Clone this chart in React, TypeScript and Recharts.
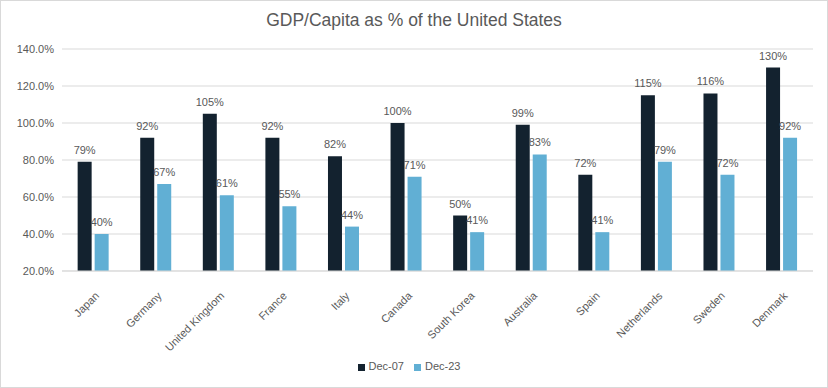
import React from "react";
import { BarChart, Bar, XAxis, YAxis, CartesianGrid, Legend, LabelList } from "recharts";

const countries = ["Japan", "Germany", "United Kingdom", "France", "Italy", "Canada", "South Korea", "Australia", "Spain", "Netherlands", "Sweden", "Denmark"];
const dec07 = [79, 92, 105, 92, 82, 100, 50, 99, 72, 115, 116, 130];
const dec23 = [40, 67, 61, 55, 44, 71, 41, 83, 41, 79, 72, 92];
const yTicks = [20, 40, 60, 80, 100, 120, 140];

const data = countries.map((c, i) => ({ name: c, d07: dec07[i], d23: dec23[i] }));

const FONT = "'Liberation Sans', Arial, sans-serif";
const TXT = "#595959";

const XTick = (props: any) => {
  const { x, y, payload } = props;
  return (
    <g transform={`translate(${x + 1},${y + 12}) rotate(-45)`}>
      <text x={0} y={0} dy="0.71em" textAnchor="end" fill={TXT} fontSize={11} fontFamily={FONT}>
        {payload.value}
      </text>
    </g>
  );
};

const pct = (v: any) => `${v}%`;

export default function App() {
  return (
    <div style={{ position: "absolute", left: 0, top: 0, width: 828, height: 388, background: "#fff", fontFamily: FONT }}>
      <div style={{ position: "absolute", left: 0, top: 0, width: 826, height: 386, border: "1px solid #d9d9d9" }} />
      <div style={{ position: "absolute", top: 10, left: 0, width: 828, textAlign: "center", fontSize: 17.5, color: TXT, fontFamily: FONT }}>
        GDP/Capita as % of the United States
      </div>
      <BarChart
        width={828}
        height={388}
        data={data}
        margin={{ top: 49, right: 15, bottom: 35, left: 0 }}
        barCategoryGap="25%"
        barGap={3}
      >
        <CartesianGrid vertical={false} stroke="#d9d9d9" />
        <XAxis dataKey="name" interval={0} tickLine={false} axisLine={{ stroke: "#d9d9d9" }} height={70} tick={<XTick />} />
        <YAxis
          width={62}
          domain={[20, 140]}
          ticks={yTicks}
          tickLine={false}
          axisLine={false}
          tickFormatter={(v: number) => `${v.toFixed(1)}%`}
          tick={{ fill: TXT, fontSize: 11, fontFamily: FONT }}
        />
        <Legend
          verticalAlign="bottom"
          iconType="square"
          iconSize={7}
          wrapperStyle={{ position: "absolute", top: 360, left: 0, width: 828, fontSize: 11, fontFamily: FONT }}
          formatter={(v: string) => <span style={{ color: TXT }}>{v}</span>}
        />
        <Bar dataKey="d07" name="Dec-07" fill="#13222F" isAnimationActive={false}>
          <LabelList dataKey="d07" position="top" offset={8} formatter={pct} fill={TXT} fontSize={11} fontFamily={FONT} />
        </Bar>
        <Bar dataKey="d23" name="Dec-23" fill="#61AFD4" isAnimationActive={false}>
          <LabelList dataKey="d23" position="top" offset={8} formatter={pct} fill={TXT} fontSize={11} fontFamily={FONT} />
        </Bar>
      </BarChart>
    </div>
  );
}
